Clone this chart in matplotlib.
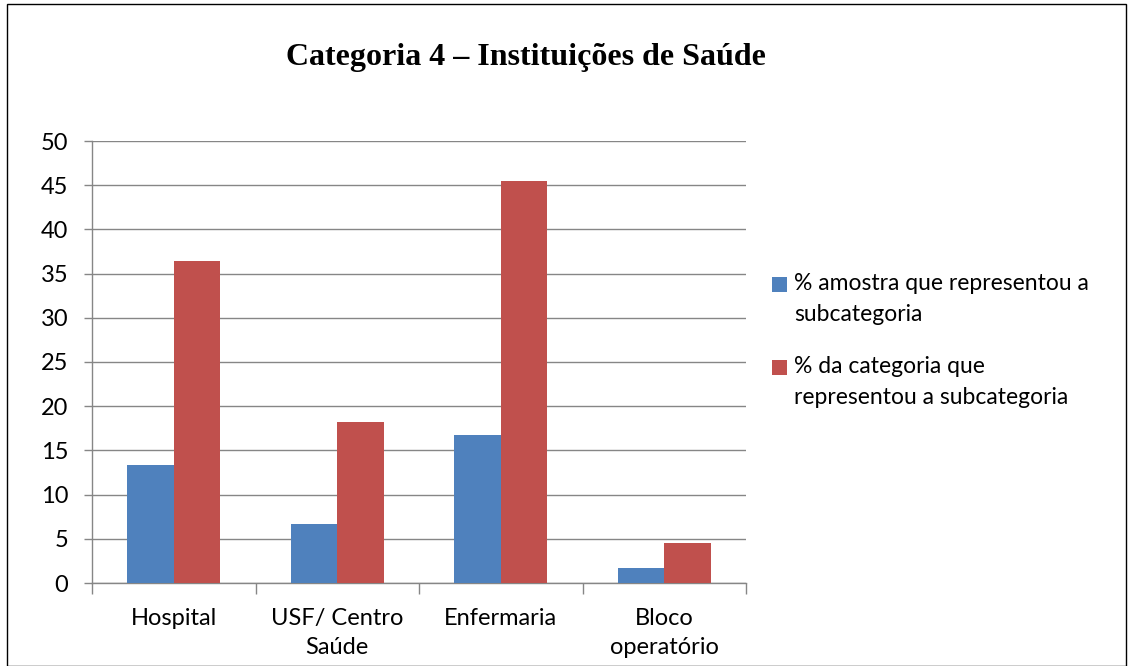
import matplotlib
matplotlib.use("Agg")
import matplotlib.pyplot as plt
from matplotlib.patches import Rectangle
import numpy as np

categories = ["Hospital", "USF/ Centro\nSaúde", "Enfermaria", "Bloco\noperatório"]
amostra = [13.3, 6.7, 16.7, 1.7]
categoria = [36.4, 18.2, 45.5, 4.5]
series_labels = ["% amostra que representou a\nsubcategoria",
                 "% da categoria que\nrepresentou a subcategoria"]
series_colors = ["#4F81BD", "#C0504D"]
yticks = list(range(0, 51, 5))

plt.rcParams['font.family'] = ['Lato', 'DejaVu Sans']

W, H = 1132, 666
fig = plt.figure(figsize=(W/100, H/100), dpi=100)
ax = fig.add_axes([92/W, 1-583/H, (746-92)/W, (583-141)/H])

x = np.arange(len(categories))
bw = 0.285
ax.bar(x - bw/2, amostra, bw, color=series_colors[0], zorder=3)
ax.bar(x + bw/2, categoria, bw, color=series_colors[1], zorder=3)

ax.set_xlim(-0.5, len(categories)-0.5)
ax.set_ylim(0, 50)
ax.set_yticks(yticks)
ax.set_yticklabels([str(t) for t in yticks], fontsize=17)
ax.yaxis.grid(True, color="#868686", linewidth=1, zorder=0)
ax.set_axisbelow(True)

ax.set_xticks(np.arange(-0.5, len(categories), 1.0))
ax.set_xticklabels([])
ax.set_xticks(x, minor=True)
ax.set_xticklabels(categories, minor=True, fontsize=17, linespacing=1.45)
ax.tick_params(axis='x', which='minor', length=0, pad=18)
ax.tick_params(axis='x', which='major', length=8, color="#868686", width=1)
ax.tick_params(axis='y', length=6, color="#868686", width=1, pad=11)

for s in ["top", "right"]:
    ax.spines[s].set_visible(False)
for s in ["left", "bottom"]:
    ax.spines[s].set_color("#868686")
    ax.spines[s].set_linewidth(1)

fig.text(526/W, 1-57/H, "Categoria 4 – Instituições de Saúde", ha="center", va="center",
         fontsize=23, fontweight="bold", family="Liberation Serif")

# manual legend
leg_y = [285, 368]
for lab, col, yy in zip(series_labels, series_colors, leg_y):
    fig.patches.append(Rectangle((772/W, 1-(yy+7)/H), 15/W, 15/H, transform=fig.transFigure,
                                 facecolor=col, edgecolor="none"))
    fig.text(794/W, 1-(yy-12)/H, lab, ha="left", va="top", fontsize=16.5, linespacing=1.6)

fig.patches.append(Rectangle((7/W, 0), (1126-7)/W, 1-4/H, transform=fig.transFigure,
                             fill=False, edgecolor="#000000", linewidth=1))

fig.savefig("out.png", dpi=100)
